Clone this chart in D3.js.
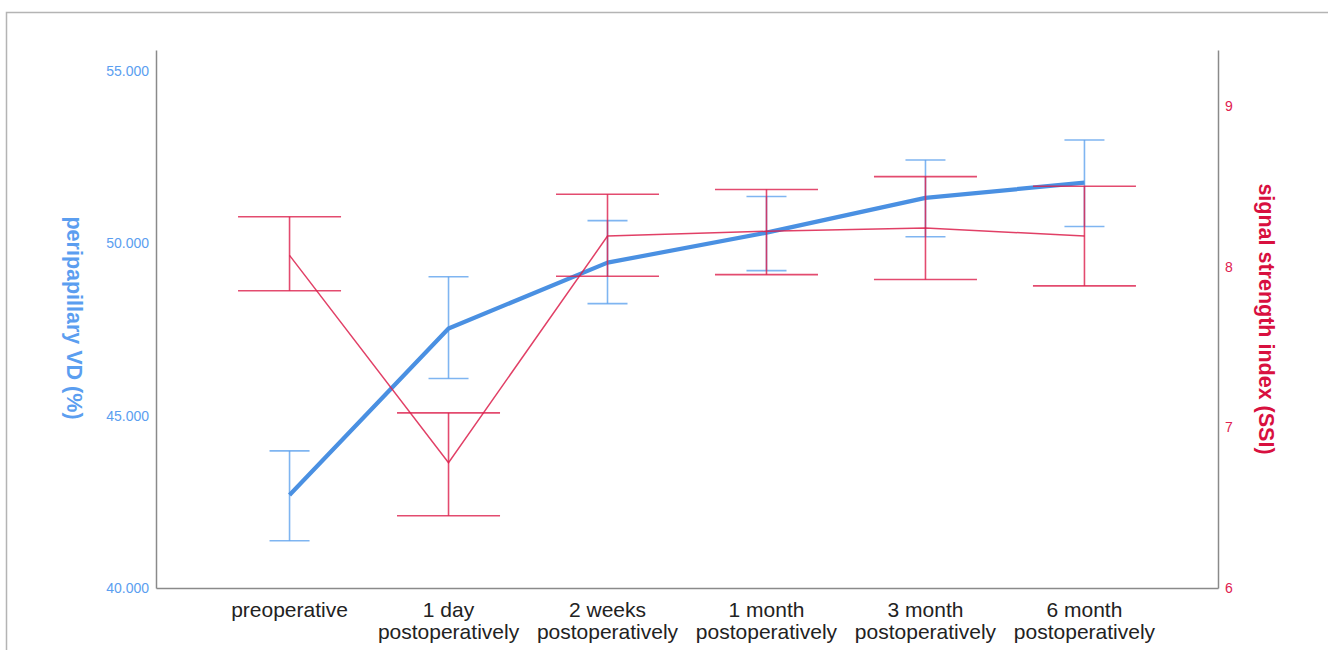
<!DOCTYPE html>
<html>
<head>
<meta charset="utf-8">
<script src="https://cdn.jsdelivr.net/npm/d3@7"></script>
<style>
  html, body { margin: 0; padding: 0; background: #fff; }
  svg { display: block; font-family: "Liberation Sans", Arial, sans-serif; }
</style>
</head>
<body>
<svg id="chart" width="1328" height="650"></svg>
<script>
// Time points after surgery
const categories = [
  ["preoperative"],
  ["1 day", "postoperatively"],
  ["2 weeks", "postoperatively"],
  ["1 month", "postoperatively"],
  ["3 month", "postoperatively"],
  ["6 month", "postoperatively"]
];

// Peripapillary vessel density (%): mean with error bar limits
const vdMean  = [42.70, 47.53, 49.44, 50.31, 51.32, 51.76];
const vdUpper = [43.98, 49.03, 50.66, 51.36, 52.42, 53.00];
const vdLower = [41.37, 46.08, 48.25, 49.21, 50.19, 50.49];

// Signal strength index: mean with error bar limits
const ssiMean  = [8.07, 6.78, 8.19, 8.22, 8.24, 8.19];
const ssiUpper = [8.31, 7.09, 8.45, 8.48, 8.56, 8.50];
const ssiLower = [7.85, 6.45, 7.94, 7.95, 7.92, 7.88];

const vdTicks  = [40, 45, 50, 55];
const ssiTicks = [6, 7, 8, 9];

const svg = d3.select("#chart");

// outer frame
svg.append("path")
  .attr("d", "M6.5,660 V12.5 H1340")
  .attr("fill", "none")
  .attr("stroke", "#b4b4b4")
  .attr("stroke-width", 1.5);

const plotLeft = 156, plotRight = 1218, plotTop = 50, plotBottom = 588;

const keys = categories.map(c => c.join(" "));
const x = d3.scalePoint().domain(keys).range([plotLeft, plotRight]).padding(0.84);
const yL = d3.scaleLinear().domain([40, 55.61]).range([plotBottom, plotTop]);
const yR = d3.scaleLinear().domain([6, 9.348]).range([plotBottom, plotTop]);

const blue = "#4a90e2", blueBar = "#5fa3ee";
const red = "#dc1e4b";

// left axis
const gL = svg.append("g").attr("transform", `translate(${plotLeft},0)`)
  .call(d3.axisLeft(yL).tickValues(vdTicks).tickSize(0).tickPadding(7)
    .tickFormat(d3.format(".3f")));
gL.select(".domain").attr("stroke", "#8a8a8a").attr("stroke-width", 1.5);
gL.selectAll("text").attr("fill", "#5b9ef0").attr("font-size", 14)
  .attr("font-family", "Liberation Sans, Arial, sans-serif");

// right axis
const gR = svg.append("g").attr("transform", `translate(${plotRight},0)`)
  .call(d3.axisRight(yR).tickValues(ssiTicks).tickSize(0).tickPadding(7)
    .tickFormat(d3.format("d")));
gR.select(".domain").attr("stroke", "#8a8a8a").attr("stroke-width", 1.5);
gR.selectAll("text").attr("fill", "#e0204f").attr("font-size", 14)
  .attr("font-family", "Liberation Sans, Arial, sans-serif");

// bottom axis
const gB = svg.append("g").attr("transform", `translate(0,${plotBottom})`)
  .call(d3.axisBottom(x).tickSize(0).tickFormat(""));
gB.select(".domain").attr("stroke", "#8a8a8a").attr("stroke-width", 1.5);

// category labels, one or two lines each
const labels = svg.append("g").attr("font-size", 21).attr("fill", "#222")
  .attr("text-anchor", "middle");
categories.forEach((lines, i) => {
  const t = labels.append("text").attr("x", x(keys[i])).attr("y", 617);
  lines.forEach((ln, j) => {
    t.append("tspan").attr("x", x(keys[i])).attr("dy", j === 0 ? 0 : 22).text(ln);
  });
});

// axis titles
svg.append("text")
  .attr("transform", "translate(67,318) rotate(90)")
  .attr("text-anchor", "middle")
  .attr("font-size", 21.5).attr("font-weight", "bold")
  .attr("fill", "#5b9ef0")
  .text("peripapillary VD (%)");

svg.append("text")
  .attr("transform", "translate(1259,319) rotate(90)")
  .attr("text-anchor", "middle")
  .attr("font-size", 21.5).attr("font-weight", "bold")
  .attr("fill", "#d8103f")
  .text("signal strength index (SSI)");

// error bar drawer
function errorBars(g, upper, lower, y, color, capHalf, width, opacity) {
  const grp = g.append("g").attr("stroke", color).attr("stroke-width", width)
    .attr("stroke-opacity", opacity).attr("fill", "none");
  keys.forEach((k, i) => {
    const cx = x(k);
    grp.append("line").attr("x1", cx).attr("x2", cx)
      .attr("y1", y(upper[i])).attr("y2", y(lower[i]));
    grp.append("line").attr("x1", cx - capHalf).attr("x2", cx + capHalf)
      .attr("y1", y(upper[i])).attr("y2", y(upper[i]));
    grp.append("line").attr("x1", cx - capHalf).attr("x2", cx + capHalf)
      .attr("y1", y(lower[i])).attr("y2", y(lower[i]));
  });
}

const plot = svg.append("g");

// VD series
errorBars(plot, vdUpper, vdLower, yL, blueBar, 20, 1.6, 0.8);
plot.append("path")
  .datum(vdMean)
  .attr("fill", "none")
  .attr("stroke", blue)
  .attr("stroke-width", 4.2)
  .attr("stroke-linejoin", "round")
  .attr("d", d3.line().x((d, i) => x(keys[i])).y(d => yL(d)));

// SSI series
errorBars(plot, ssiUpper, ssiLower, yR, red, 51.5, 1.6, 0.8);
plot.append("path")
  .datum(ssiMean)
  .attr("fill", "none")
  .attr("stroke", red)
  .attr("stroke-opacity", 0.85)
  .attr("stroke-width", 1.5)
  .attr("d", d3.line().x((d, i) => x(keys[i])).y(d => yR(d)));
</script>
</body>
</html>
